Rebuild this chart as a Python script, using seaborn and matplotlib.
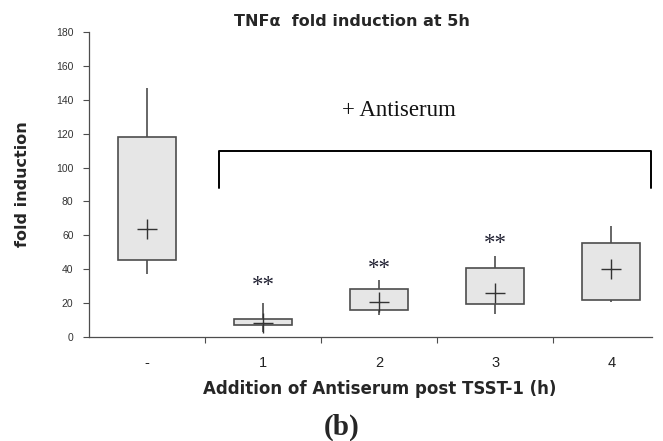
import numpy as np
import pandas as pd
import matplotlib
matplotlib.use("Agg")
import matplotlib.pyplot as plt
import seaborn as sns

# ---- data ----
categories = ["-", "1", "2", "3", "4"]
whisker_low = [37.0, 2.8, 12.8, 13.4, 20.7]
q1 = [45.3, 6.7, 15.8, 19.1, 21.9]
centers = [63.9, 7.9, 20.3, 25.6, 39.8]   # "+" markers
q3 = [118.3, 10.3, 28.0, 40.6, 55.2]
whisker_high = [147.0, 20.0, 33.5, 47.7, 65.5]
sig_labels = ["", "**", "**", "**", ""]
sig_y = [None, 30.5, 40.4, 55.0, None]
bracket_x = [0.62, 0.62, 4.34, 4.34]
bracket_y = [88, 110, 110, 88]
yticks = list(range(0, 181, 20))

# build a five-number data set per category so seaborn reproduces the box stats
rows = []
for c, lo, a, m, b, hi in zip(categories, whisker_low, q1, centers, q3, whisker_high):
    for v in (lo, a, m, b, hi):
        rows.append({"cat": c, "val": v})
df = pd.DataFrame(rows)

sns.set_style("white")
plt.rcParams["font.family"] = ["Liberation Sans", "DejaVu Sans"]

fig = plt.figure(figsize=(6.63, 4.41), dpi=100)
ax = fig.add_axes([88.8 / 663, 1 - 336.7 / 441, (652 - 88.8) / 663, (336.7 - 32.3) / 441])

edge = "#4d4d4d"
sns.boxplot(data=df, x="cat", y="val", order=categories, ax=ax,
            whis=(0, 100), width=0.5, color="#e6e6e6", linecolor=edge,
            linewidth=1.2, showcaps=False, fliersize=0, saturation=1,
            medianprops=dict(linewidth=0))

sns.scatterplot(x=np.arange(len(categories)), y=centers, marker="+", s=190,
                color="#333333", linewidth=1.0, ax=ax, zorder=5, legend=False)

# significance stars
for i, (lab, yy) in enumerate(zip(sig_labels, sig_y)):
    if lab:
        ax.text(i, yy, lab, ha="center", va="center", fontsize=16.5,
                family=["Liberation Serif"], color="#222233")

# bracket
ax.plot(bracket_x, bracket_y, color="black", lw=1.4, clip_on=False, zorder=4)
ax.text(1.68, 134, "+ Antiserum", ha="left", va="center", fontsize=16.5,
        family=["Liberation Serif"], color="#111111")

ax.set_xlim(-0.5, 4.35)
ax.set_ylim(0, 180)
ax.set_yticks(yticks)
ax.set_yticklabels([str(t) for t in yticks])
ax.tick_params(axis="y", direction="out", length=4, width=0.8, color=edge,
               labelsize=7.5, labelcolor="#333333", pad=7, left=True)
ax.set_xticks(range(len(categories)))
ax.set_xticklabels(categories)
ax.tick_params(axis="x", which="major", length=0, labelsize=10.5,
               labelcolor="#222222", pad=14)
ax.set_xticks([0.5, 1.5, 2.5, 3.5], minor=True)
ax.tick_params(axis="x", which="minor", direction="out", length=4,
               width=0.8, color=edge, bottom=True)

for s in ("top", "right"):
    ax.spines[s].set_visible(False)
for s in ("left", "bottom"):
    ax.spines[s].set_color(edge)
    ax.spines[s].set_linewidth(0.9)

bold_fam = ["DejaVu Sans"]
ax.set_xlabel("Addition of Antiserum post TSST-1 (h)", fontsize=12,
              fontweight="bold", family=bold_fam)
ax.xaxis.set_label_coords(0.516, -0.142)
ax.set_ylabel("fold induction", fontsize=11.5, fontweight="bold", labelpad=19,
              family=bold_fam)

fig.text(352 / 663, 1 - 21 / 441, "TNF\u03b1  fold induction at 5h",
         ha="center", va="center", fontsize=11.5, fontweight="bold",
         family=bold_fam)
fig.text(342 / 663, 1 - 427 / 441, "(b)", ha="center", va="center",
         fontsize=21, fontweight="bold", family=["Liberation Serif"])

fig.savefig("out.png", dpi=100)
